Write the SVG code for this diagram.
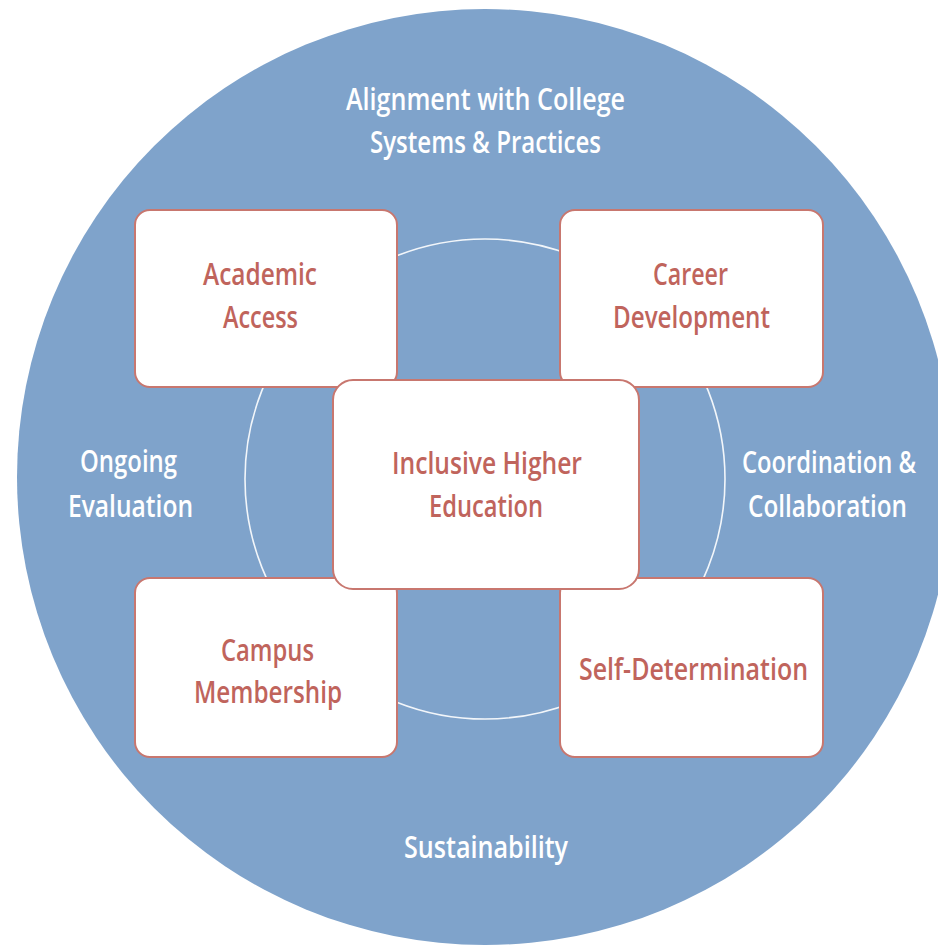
<svg xmlns="http://www.w3.org/2000/svg" width="938" height="945" viewBox="0 0 938 945">
<style>
.box{fill:#ffffff;stroke:#c8776f;stroke-width:2}
.lbl{font-family:"Open Sans","Liberation Sans",sans-serif;font-weight:600;font-size:30px;fill:#c0645c}
.out{font-family:"Open Sans","Liberation Sans",sans-serif;font-weight:600;font-size:30px;fill:#ffffff}
</style>
<rect width="938" height="945" fill="#ffffff"/>
<g id="background">
<circle cx="485" cy="477" r="468" fill="#7fa3cb"/>
</g>
<g id="connectors">
<circle cx="485" cy="479" r="240" fill="none" stroke="#ffffff" stroke-width="1.6" stroke-opacity="0.9"/>
</g>
<g id="outer-labels">
<text class="out" x="346" y="110" textLength="279" lengthAdjust="spacingAndGlyphs">Alignment with College</text>
<text class="out" x="370" y="153" textLength="231" lengthAdjust="spacingAndGlyphs">Systems &amp; Practices</text>
<text class="out" x="80" y="472" textLength="97" lengthAdjust="spacingAndGlyphs">Ongoing</text>
<text class="out" x="68" y="517" textLength="125" lengthAdjust="spacingAndGlyphs">Evaluation</text>
<text class="out" x="742" y="473" textLength="174" lengthAdjust="spacingAndGlyphs">Coordination &amp;</text>
<text class="out" x="748" y="517" textLength="159" lengthAdjust="spacingAndGlyphs">Collaboration</text>
<text class="out" x="404" y="858" textLength="164" lengthAdjust="spacingAndGlyphs">Sustainability</text>
</g>
<g id="academic-access">
<rect class="box" x="135" y="210" width="262" height="177" rx="15"/>
<text class="lbl" x="203" y="285" textLength="114" lengthAdjust="spacingAndGlyphs">Academic</text>
<text class="lbl" x="223" y="328" textLength="75" lengthAdjust="spacingAndGlyphs">Access</text>
</g>
<g id="career-development">
<rect class="box" x="560" y="210" width="263" height="177" rx="15"/>
<text class="lbl" x="653" y="285" textLength="75" lengthAdjust="spacingAndGlyphs">Career</text>
<text class="lbl" x="613" y="328" textLength="157" lengthAdjust="spacingAndGlyphs">Development</text>
</g>
<g id="campus-membership">
<rect class="box" x="135" y="578" width="262" height="179" rx="15"/>
<text class="lbl" x="221" y="661" textLength="93" lengthAdjust="spacingAndGlyphs">Campus</text>
<text class="lbl" x="194" y="703" textLength="148" lengthAdjust="spacingAndGlyphs">Membership</text>
</g>
<g id="self-determination">
<rect class="box" x="560" y="578" width="263" height="179" rx="15"/>
<text class="lbl" x="579" y="680" textLength="229" lengthAdjust="spacingAndGlyphs">Self-Determination</text>
</g>
<g id="inclusive-higher-education">
<rect class="box" x="333" y="380" width="306" height="209" rx="20"/>
<text class="lbl" x="392" y="474" textLength="190" lengthAdjust="spacingAndGlyphs">Inclusive Higher</text>
<text class="lbl" x="429" y="517" textLength="114" lengthAdjust="spacingAndGlyphs">Education</text>
</g>
</svg>
